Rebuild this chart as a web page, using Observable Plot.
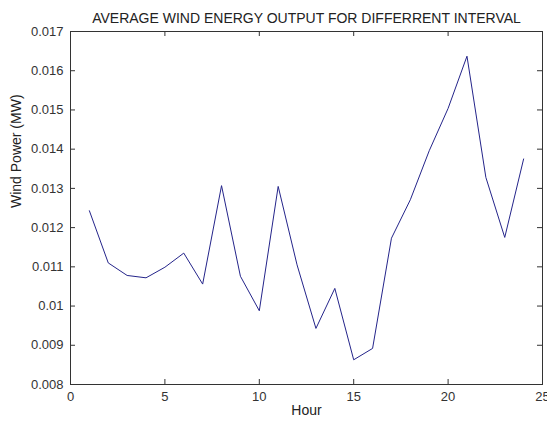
<!DOCTYPE html>
<html>
<head>
<meta charset="utf-8">
<script src="https://cdn.jsdelivr.net/npm/d3@7"></script>
<script src="https://cdn.jsdelivr.net/npm/@observablehq/plot@0.6"></script>
<style>
  html, body { margin: 0; padding: 0; background: #fff; }
</style>
</head>
<body>
<div id="chart"></div>
<script>
const hours = [1,2,3,4,5,6,7,8,9,10,11,12,13,14,15,16,17,18,19,20,21,22,23,24];
const power = [0.01243,0.01110,0.01078,0.01072,0.01099,0.01135,0.01056,0.01307,0.01076,0.00988,0.01305,0.01105,0.00943,0.01045,0.00863,0.00892,0.01173,0.01271,0.01396,0.01504,0.01637,0.01328,0.01175,0.01375];
const xTicks = [0,5,10,15,20,25];
const yTicks = [0.008,0.009,0.010,0.011,0.012,0.013,0.014,0.015,0.016,0.017];
const title = "AVERAGE WIND ENERGY OUTPUT FOR DIFFERRENT INTERVAL";
const xLabel = "Hour";
const yLabel = "Wind Power (MW)";

const data = hours.map((h, i) => ({hour: h, power: power[i]}));
const fmt = d => String(+d.toFixed(3));

const W = 547, H = 423, mL = 70, mR = 5, mT = 31, mB = 39;
const frameW = W - mL - mR, frameH = H - mT - mB, tick = 5;

const chart = Plot.plot({
  width: W,
  height: H,
  marginLeft: mL,
  marginRight: mR,
  marginTop: mT,
  marginBottom: mB,
  style: {fontFamily: "'Liberation Sans', Arial, sans-serif", fontSize: "13px", color: "#222", background: "#fff"},
  x: {domain: [0, 25]},
  y: {domain: [0.008, 0.017]},
  marks: [
    Plot.axisX({anchor: "bottom", ticks: xTicks, tickSize: 0, tickPadding: 7, tickFormat: fmt, label: null, fill: "#333"}),
    Plot.axisY({anchor: "left", ticks: yTicks, tickSize: 0, tickPadding: 7, tickFormat: fmt, label: null, fill: "#333"}),
    Plot.tickX(xTicks, {x: d => d, insetTop: frameH - tick, stroke: "#333"}),
    Plot.tickX(xTicks, {x: d => d, insetBottom: frameH - tick, stroke: "#333"}),
    Plot.tickY(yTicks, {y: d => d, insetRight: frameW - tick, stroke: "#333"}),
    Plot.tickY(yTicks, {y: d => d, insetLeft: frameW - tick, stroke: "#333"}),
    Plot.frame({stroke: "#333", strokeWidth: 1}),
    Plot.line(data, {x: "hour", y: "power", stroke: "#24248a", strokeWidth: 1}),
    Plot.text([title], {text: d => d, frameAnchor: "top", dy: -18, fontSize: 14, fill: "#222"}),
    Plot.text([xLabel], {text: d => d, frameAnchor: "bottom", dy: 30, fontSize: 14, fill: "#222"}),
    Plot.text([yLabel], {text: d => d, frameAnchor: "left", dx: -54, rotate: -90, fontSize: 14, fill: "#222"})
  ]
});
document.getElementById("chart").appendChild(chart);
</script>
</body>
</html>
